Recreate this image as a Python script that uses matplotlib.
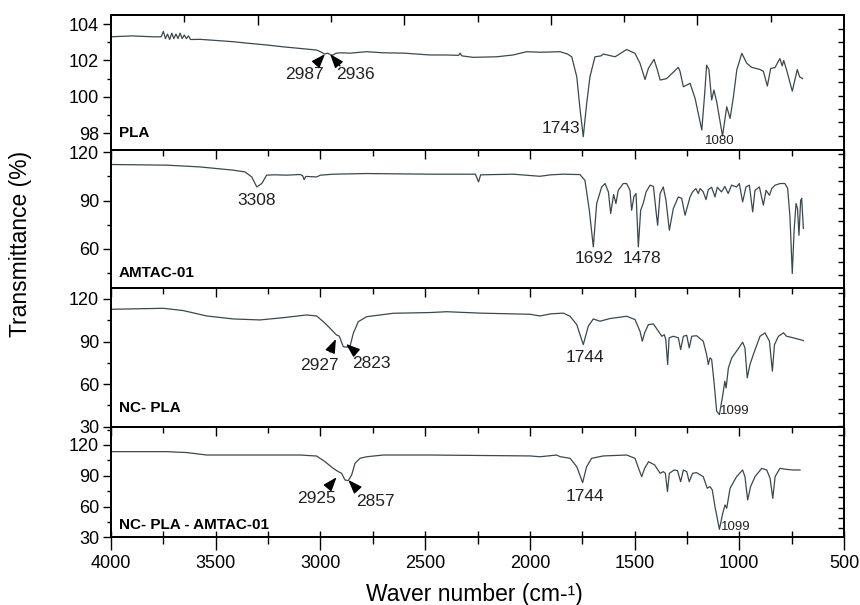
import matplotlib

matplotlib.use("Agg")
import matplotlib.pyplot as plt
import numpy as np
from matplotlib.ticker import MultipleLocator, FixedLocator

plt.rcParams["font.family"] = ["Liberation Sans", "DejaVu Sans"]

# spectra: wavenumber (cm-1) / transmittance (%)
pla_wn = [4000, 3900, 3800, 3760, 3750, 3740, 3730, 3720, 3710, 3700, 3690, 3680,
          3670, 3660, 3650, 3640, 3630, 3620, 3575, 3500, 3417, 3350, 3256, 3180,
          3097, 3018, 2995, 2980, 2965, 2950, 2940, 2925, 2900, 2859, 2779, 2700,
          2600, 2477, 2400, 2340, 2333, 2325, 2271, 2158, 2080, 2015, 1950, 1856,
          1820, 1800, 1776, 1760, 1745, 1729, 1713, 1689, 1660, 1649, 1630, 1593,
          1538, 1498, 1474, 1450, 1434, 1407, 1391, 1378, 1347, 1291, 1283, 1267,
          1235, 1211, 1179, 1165, 1156, 1145, 1132, 1121, 1108, 1080, 1060, 1044,
          1028, 1012, 988, 964, 941, 901, 885, 866, 850, 830, 806, 795, 788, 774,
          747, 723, 712, 698]
pla_t = [103.3, 103.35, 103.3, 103.3, 103.6, 103.2, 103.45, 103.15, 103.5, 103.2,
         103.45, 103.2, 103.5, 103.2, 103.4, 103.2, 103.35, 103.15, 103.16, 103.1,
         103.03, 102.95, 102.85, 102.75, 102.66, 102.57, 102.45, 102.35, 102.4, 102.3,
         102.3, 102.4, 102.42, 102.4, 102.48, 102.42, 102.4, 102.3, 102.3, 102.28,
         102.4, 102.25, 102.17, 102.2, 102.3, 102.48, 102.45, 102.48, 102.35, 102.2,
         101.1, 99.27, 97.8, 99.6, 101.1, 102.2, 102.25, 102.35, 102.3, 102.2,
         102.6, 102.39, 101.84, 100.95, 101.56, 102.06, 101.47, 100.92, 101.0, 101.62,
         101.4, 100.55, 100.74, 99.91, 98.17, 100.2, 101.74, 101.5, 99.82, 100.37,
         99.73, 97.84, 99.45, 98.81, 100.0, 101.47, 102.39, 101.84, 101.62, 101.5,
         101.4, 100.59, 101.56, 101.6, 102.1, 101.7, 102.0, 101.47, 100.31, 101.5,
         101.1, 101.0]

amtac_wn = [4000, 3734, 3575, 3417, 3360, 3328, 3304, 3280, 3257, 3220, 3161, 3097,
            3085, 3078, 3070, 3018, 3000, 2938, 2779, 2477, 2260, 2245, 2235, 2080,
            1952, 1900, 1840, 1776, 1761, 1737, 1716, 1697, 1681, 1657, 1641, 1625,
            1614, 1600, 1589, 1578, 1554, 1538, 1522, 1514, 1503, 1493, 1482, 1471,
            1459, 1445, 1426, 1410, 1398, 1390, 1378, 1363, 1350, 1334, 1315, 1291,
            1275, 1259, 1235, 1223, 1207, 1196, 1187, 1172, 1159, 1148, 1132, 1116,
            1105, 1085, 1069, 1053, 1037, 1013, 1000, 984, 968, 952, 936, 925, 904,
            885, 872, 856, 845, 829, 805, 782, 769, 758, 747, 738, 729, 722, 715,
            707, 702, 694]
amtac_t = [112.4, 112.0, 110.9, 108.9, 107.8, 104.7, 98.5, 100.6, 105.8, 106.0, 105.8,
           106.2, 105.5, 103.0, 105.0, 104.7, 105.8, 106.4, 106.8, 106.4, 106.4, 101.6,
           106.0, 106.4, 105.1, 106.0, 106.4, 106.2, 106.2, 102.6, 84.0, 61.3, 88.2,
           98.5, 100.6, 95.4, 82.0, 93.8, 88.2, 96.4, 100.6, 100.6, 96.4, 84.0, 92.6,
           94.4, 61.3, 84.0, 88.2, 95.4, 99.6, 98.8, 84.0, 74.7, 94.4, 98.5, 90.2,
           71.6, 85.1, 92.3, 91.4, 80.9, 92.3, 95.4, 97.5, 94.4, 97.5, 95.4, 90.6,
           96.8, 98.3, 92.3, 98.3, 95.4, 98.8, 94.4, 99.6, 98.5, 100.6, 89.2, 98.5,
           99.6, 83.0, 96.4, 98.5, 87.2, 96.4, 93.3, 97.5, 99.6, 100.6, 100.6, 97.5,
           79.9, 44.8, 72.0, 88.2, 85.1, 68.5, 90.2, 91.4, 72.7]

ncpla_wn = [4000, 3750, 3655, 3543, 3416, 3289, 3177, 3066, 3018, 2978, 2939, 2923,
            2910, 2891, 2875, 2859, 2843, 2819, 2779, 2652, 2477, 2397, 2238, 1999,
            1952, 1900, 1840, 1808, 1776, 1745, 1721, 1697, 1665, 1617, 1538, 1498,
            1474, 1463, 1452, 1434, 1410, 1386, 1370, 1358, 1351, 1342, 1335, 1315,
            1291, 1280, 1267, 1251, 1239, 1227, 1204, 1172, 1156, 1148, 1140, 1132,
            1121, 1108, 1095, 1081, 1069, 1063, 1052, 1036, 1013, 984, 973, 962, 949,
            933, 901, 877, 856, 842, 832, 813, 789, 774, 742, 694]
ncpla_t = [112.7, 113.4, 111.8, 108.0, 105.9, 105.2, 106.8, 108.7, 108.0, 102.9, 97.0,
           94.6, 93.8, 86.4, 86.0, 86.4, 95.8, 104.0, 107.5, 109.9, 110.4, 111.0,
           110.0, 109.2, 108.0, 109.5, 110.0, 107.8, 101.9, 87.8, 100.8, 105.9, 104.3,
           106.2, 107.8, 105.5, 97.2, 90.2, 96.1, 101.9, 102.4, 97.2, 93.7, 94.8,
           91.4, 73.8, 92.6, 93.7, 92.6, 84.3, 93.7, 94.4, 85.5, 93.7, 94.1, 90.2,
           80.8, 73.8, 78.5, 77.4, 62.0, 40.9, 38.5, 50.3, 62.0, 57.3, 71.4, 78.5,
           83.2, 89.5, 85.5, 64.4, 73.8, 80.8, 93.7, 96.1, 90.2, 69.1, 87.8, 93.7,
           96.1, 93.7, 92.6, 90.7]

blend_wn = [4000, 3734, 3639, 3543, 3400, 3097, 3018, 2978, 2939, 2915, 2899, 2883,
            2867, 2851, 2835, 2811, 2779, 2700, 2477, 1999, 1952, 1872, 1856, 1808,
            1776, 1748, 1729, 1705, 1649, 1538, 1498, 1478, 1466, 1452, 1433, 1404,
            1378, 1363, 1353, 1343, 1334, 1311, 1295, 1280, 1267, 1251, 1239, 1223,
            1204, 1172, 1153, 1140, 1129, 1116, 1095, 1079, 1068, 1060, 1044, 1013,
            984, 973, 960, 946, 925, 893, 869, 853, 840, 829, 806, 774, 742, 710]
blend_t = [113.5, 113.5, 112.6, 110.2, 110.2, 110.2, 109.2, 103.7, 97.2, 94.0, 92.4,
           85.9, 85.2, 90.7, 102.1, 107.0, 108.5, 110.2, 110.2, 109.3, 108.5, 110.2,
           108.6, 107.0, 98.8, 83.3, 98.8, 107.0, 109.3, 110.2, 107.0, 95.6, 89.1,
           97.2, 103.7, 100.5, 92.4, 94.0, 92.4, 74.5, 92.4, 95.6, 95.0, 84.2, 95.6,
           94.0, 84.2, 92.4, 93.0, 89.1, 77.8, 79.4, 76.2, 59.8, 37.8, 53.4, 61.5,
           58.3, 77.8, 89.1, 95.6, 89.1, 66.4, 79.4, 89.1, 97.2, 95.6, 87.5, 68.0,
           89.1, 97.2, 96.2, 95.6, 95.6]

names = ["PLA", "AMTAC-01", "NC- PLA", "NC- PLA - AMTAC-01"]
spectra = [(pla_wn, pla_t), (amtac_wn, amtac_t), (ncpla_wn, ncpla_t), (blend_wn, blend_t)]
ylims = [(97.07, 104.5), (35.8, 121.4), (30, 127.7), (30, 137.8)]
ymajor = [2, 30, 30, 30]
yminor = [1, 15, 15, 15]

# peak labels: (text, x, y, size)
peak_labels = [
    [("2987", 3074, 101.2, 12.5), ("2936", 2835, 101.2, 12.5),
     ("1743", 1852, 98.27, 12.5), ("1080", 1093, 97.56, 9.5)],
    [("3308", 3304, 90.2, 12.5), ("1692", 1693, 54, 12.5), ("1478", 1466, 54, 12.5)],
    [("2927", 3007, 72.8, 12.5), ("2823", 2755, 74.2, 12.5), ("1744", 1737, 78.4, 12.5)],
    [("2925", 3018, 68, 12.5), ("2857", 2735, 64.7, 12.5), ("1744", 1737, 69.6, 12.5)],
]
small_labels = [None, None, ("1099", 1092, 40.9), ("1099", 1088, 39.8)]
# arrows: (tip, tail)
arrows = [
    [((2978, 102.35), (3021, 101.8)), ((2954, 102.35), (2907, 101.7))],
    [],
    [((2926, 91.8), (2954, 82.7)), ((2878, 88.3), (2835, 82.9))],
    [((2923, 88.5), (2954, 81.0)), ((2867, 85.9), (2830, 77.8))],
]

W, H = 860, 605
# (top, bottom) of each panel in pixels
panel_px = [(15, 150), (150, 288), (288, 426.7), (426.7, 537.3)]
# right-hand inner tick marks (axes fraction start, step, count)
right_ticks = [(0.106, 0.0987, 9), (0.094, 0.0975, 10), (0.005, 0.096, 11), (0.081, 0.094, 10)]

line_color = "#3d474c"
fig = plt.figure(figsize=(W / 100, H / 100), dpi=100)
left, width = 111 / W, 733 / W
axes = []
for i, (top, bot) in enumerate(panel_px):
    ax = fig.add_axes((left, 1 - bot / H, width, (bot - top) / H))
    ax.patch.set_visible(False)
    wn, t = spectra[i]
    ax.plot(wn, t, color=line_color, lw=0.9)
    ax.set_xlim(4000, 500)
    ax.set_ylim(*ylims[i])
    for s in ax.spines.values():
        s.set_linewidth(1.3)

    ax.yaxis.set_major_locator(MultipleLocator(ymajor[i]))
    ax.yaxis.set_minor_locator(MultipleLocator(yminor[i]))
    ax.tick_params(axis="y", which="major", direction="out", length=5.5, width=1,
                   labelsize=13, pad=3, right=False)
    ax.tick_params(axis="y", which="minor", direction="out", length=3, width=1, right=False)

    ax.xaxis.set_major_locator(MultipleLocator(500))
    ax.xaxis.set_minor_locator(MultipleLocator(250))
    if i < 3:
        ax.tick_params(axis="x", which="major", direction="out", length=6.5, width=1,
                       labelbottom=False, top=False)
        ax.tick_params(axis="x", which="minor", direction="out", length=4, width=1, top=False)
    else:
        ax.tick_params(axis="x", which="major", direction="out", length=9, width=1,
                       labelsize=13, pad=4, top=False)
        ax.tick_params(axis="x", which="minor", direction="out", length=5, width=1, top=False)
        inner = ax.secondary_xaxis("bottom")
        inner.xaxis.set_major_locator(MultipleLocator(250))
        inner.tick_params(direction="in", length=4, width=1, labelbottom=False)
        inner.spines["bottom"].set_visible(False)

    tw = ax.twinx()
    tw.set_ylim(0, 1)
    start, step, n = right_ticks[i]
    tw.yaxis.set_major_locator(FixedLocator(start + step * np.arange(n)))
    tw.tick_params(axis="y", direction="in", length=4.3, width=1, labelright=False)
    for s in tw.spines.values():
        s.set_linewidth(1.3)

    ax.text(0.011, [0.074, 0.058, 0.084, 0.048][i], names[i], transform=ax.transAxes,
            fontsize=11, fontweight="bold", ha="left", va="bottom")
    for txt, x, y, size in peak_labels[i]:
        ax.text(x, y, txt, fontsize=size, ha="center", va="center", color="#222222")
    if small_labels[i]:
        txt, x, y = small_labels[i]
        ax.text(x, y, txt, fontsize=9.5, ha="left", va="center", color="#222222")
    for tip, tail in arrows[i]:
        ax.annotate("", xy=tip, xytext=tail,
                    arrowprops=dict(arrowstyle="-|>,head_length=0.6,head_width=0.22",
                                    color="black", lw=1, shrinkA=0, shrinkB=0,
                                    mutation_scale=14))
    axes.append(ax)

# odd top axis of the PLA panel
sec = axes[0].secondary_xaxis("top")
sec.xaxis.set_major_locator(FixedLocator([3300, 2600, 1900, 1200]))
sec.xaxis.set_minor_locator(FixedLocator([3650, 2950, 2250, 1550, 850]))
sec.tick_params(which="major", direction="in", length=7, width=1, labeltop=False)
sec.tick_params(which="minor", direction="in", length=5, width=1)
sec.spines["top"].set_linewidth(1.3)

fig.text(21 / W, 1 - 244 / H, "Transmittance (%)", rotation=90, ha="center", va="center",
         fontsize=16.5)
fig.text(474 / W, 1 - 595 / H, "Waver number (cm-\u00b9)", ha="center", va="center",
         fontsize=16.5)

fig.savefig("out.png", dpi=100)
